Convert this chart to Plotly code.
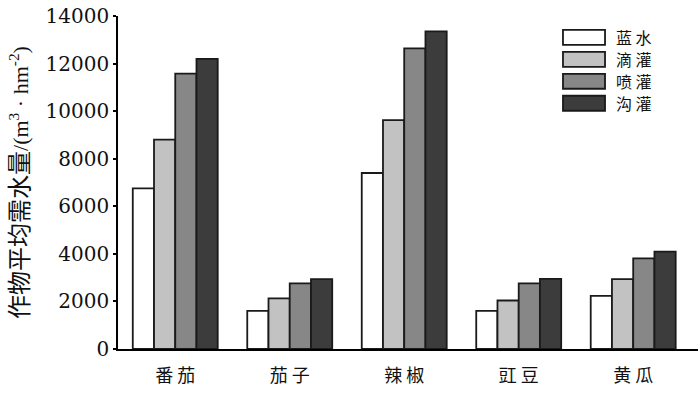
import plotly.graph_objects as go

categories = ["番茄", "茄子", "辣椒", "豇豆", "黄瓜"]
series_names = ["蓝水", "滴灌", "喷灌", "沟灌"]
lanshui = [6750, 1600, 7400, 1600, 2230]
diguan = [8800, 2130, 9620, 2040, 2940]
penguan = [11580, 2760, 12640, 2760, 3810]
gouguan = [12200, 2940, 13350, 2950, 4090]
series_values = [lanshui, diguan, penguan, gouguan]
series_colors = ["#ffffff", "#c2c2c2", "#878787", "#3c3c3c"]
y_ticks = [0, 2000, 4000, 6000, 8000, 10000, 12000, 14000]

cjk = "Noto Sans CJK SC"
serif = "DejaVu Serif"
outline = "#1a1a1a"

fig = go.Figure()
for name, vals, col in zip(series_names, series_values, series_colors):
    fig.add_trace(go.Bar(
        x=categories, y=vals, name=name,
        marker=dict(color=col, line=dict(color=outline, width=1.8)),
        showlegend=False,
    ))

# custom legend (large swatches as in the reference)
leg_x0, leg_x1 = 0.7672, 0.8397
leg_top = 0.936
leg_step = 0.066
leg_h = 0.045
for i, (name, col) in enumerate(zip(series_names, series_colors)):
    yc = leg_top - i * leg_step
    fig.add_shape(type="rect", xref="paper", yref="paper",
                  x0=leg_x0, x1=leg_x1, y0=yc - leg_h / 2, y1=yc + leg_h / 2,
                  fillcolor=col, line=dict(color=outline, width=1.8))
    fig.add_annotation(xref="paper", yref="paper", x=0.8569, y=yc,
                       text=" ".join(name), showarrow=False, xanchor="left",
                       yanchor="middle", height=18, borderpad=0,
                       font=dict(family=cjk, size=16, color="#111"))

title_text = ('<span style="font-family:Noto Sans CJK SC;font-size:24px">作物平均需水量</span>'
              '/(m<sup>3</sup> · hm<sup>-2</sup>)')

fig.update_layout(
    width=700, height=410,
    margin=dict(l=118, r=2, t=16, b=61),
    paper_bgcolor="white", plot_bgcolor="white",
    barmode="group", bargap=0.258, bargroupgap=0,
    xaxis=dict(
        type="category", range=[-0.5, 4.566], automargin=False,
        showline=True, linecolor="black", linewidth=1.6,
        ticks="", showgrid=False, ticklabelstandoff=10,
        tickfont=dict(family=cjk, size=18, color="#111"),
        ticktext=[" ".join(c) for c in categories], tickvals=categories,
    ),
    yaxis=dict(
        range=[0, 14000.5], tickvals=y_ticks, tickformat="d", automargin=False,
        showline=True, linecolor="black", linewidth=1.6,
        ticks="outside", ticklen=3, tickwidth=1.6, tickcolor="black",
        showgrid=False, zeroline=False,
        tickfont=dict(family=serif, size=20, color="#111"),
        title=dict(text=title_text,
                   font=dict(family="Liberation Serif", size=22, color="#111"),
                   standoff=29),
    ),
)

fig.write_html(
    "out.html",
    config={"displayModeBar": False},
    post_script="document.body.style.margin='0';document.body.style.overflow='hidden';",
)
